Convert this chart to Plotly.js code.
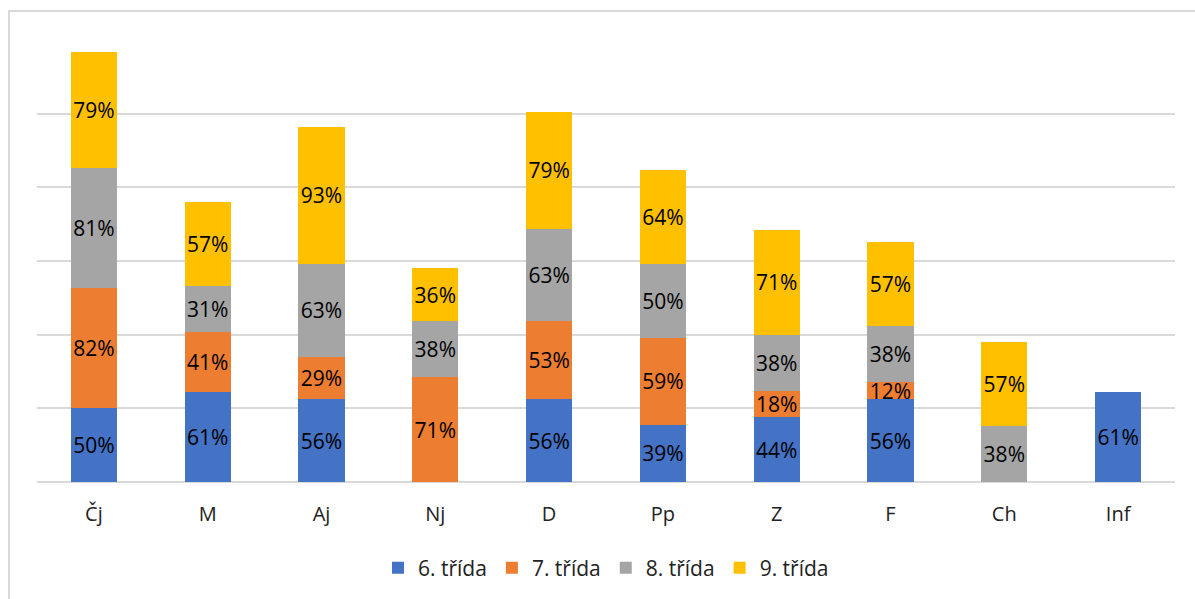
<!DOCTYPE html>
<html>
<head>
<meta charset="utf-8">
<script src="https://cdn.plot.ly/plotly-3.0.1.min.js"></script>
<style>
  html, body { margin: 0; padding: 0; background: #ffffff; }
  #frame { position: absolute; left: 8px; top: 10px; width: 1300px; height: 700px;
           border-top: 2px solid #d9d9d9; border-left: 2px solid #d9d9d9; }
  #chart { position: absolute; left: 0; top: 0; width: 1195px; height: 599px; }
</style>
</head>
<body>
<div id="frame"></div>
<div id="chart"></div>
<script>
const categories = ["Čj", "M", "Aj", "Nj", "D", "Pp", "Z", "F", "Ch", "Inf"];
const seriesNames = ["6. třída", "7. třída", "8. třída", "9. třída"];
const grade6 = [50, 61, 56, null, 56, 39, 44, 56, null, 61];
const grade7 = [82, 41, 29, 71, 53, 59, 18, 12, null, null];
const grade8 = [81, 31, 63, 38, 63, 50, 38, 38, 38, null];
const grade9 = [79, 57, 93, 36, 79, 64, 71, 57, 57, null];
const colors = ["#4472C4", "#ED7D31", "#A5A5A5", "#FFC000"];

const series = [grade6, grade7, grade8, grade9];
const fontFam = "Open Sans, Noto Sans, sans-serif";

const traces = series.map((vals, i) => ({
  type: "bar",
  name: seriesNames[i],
  x: categories,
  y: vals,
  marker: { color: colors[i] },
  width: 0.405,
  text: vals.map(v => v == null ? "" : v + "%"),
  textposition: "inside",
  insidetextanchor: "middle",
  textangle: 0,
  constraintext: "none",
  textfont: { family: fontFam, size: 21, color: "#000000" },
  hoverinfo: "x+y+name"
}));

const layout = {
  barmode: "stack",
  width: 1195,
  height: 599,
  margin: { l: 37, r: 20, t: 40, b: 116 },
  paper_bgcolor: "rgba(0,0,0,0)",
  plot_bgcolor: "rgba(0,0,0,0)",
  font: { family: fontFam, size: 20, color: "#000000" },
  xaxis: {
    type: "category",
    showgrid: false,
    showline: false,
    zeroline: false,
    ticks: "",
    ticklabelstandoff: 18,
    tickfont: { family: fontFam, size: 20, color: "#222222" }
  },
  yaxis: {
    range: [0, 300],
    dtick: 50,
    showticklabels: false,
    showgrid: true,
    gridcolor: "#d9d9d9",
    gridwidth: 1.8,
    zeroline: true,
    zerolinecolor: "#d9d9d9",
    zerolinewidth: 1.8,
    showline: false,
    ticks: ""
  },
  showlegend: true,
  legend: {
    orientation: "h",
    x: 0.5, xanchor: "center",
    y: -0.192, yanchor: "middle",
    font: { family: fontFam, size: 21, color: "#222222" },
    itemwidth: 30,
    traceorder: "normal"
  }
};

Plotly.newPlot("chart", traces, layout, { displayModeBar: false, staticPlot: true });
</script>
</body>
</html>
